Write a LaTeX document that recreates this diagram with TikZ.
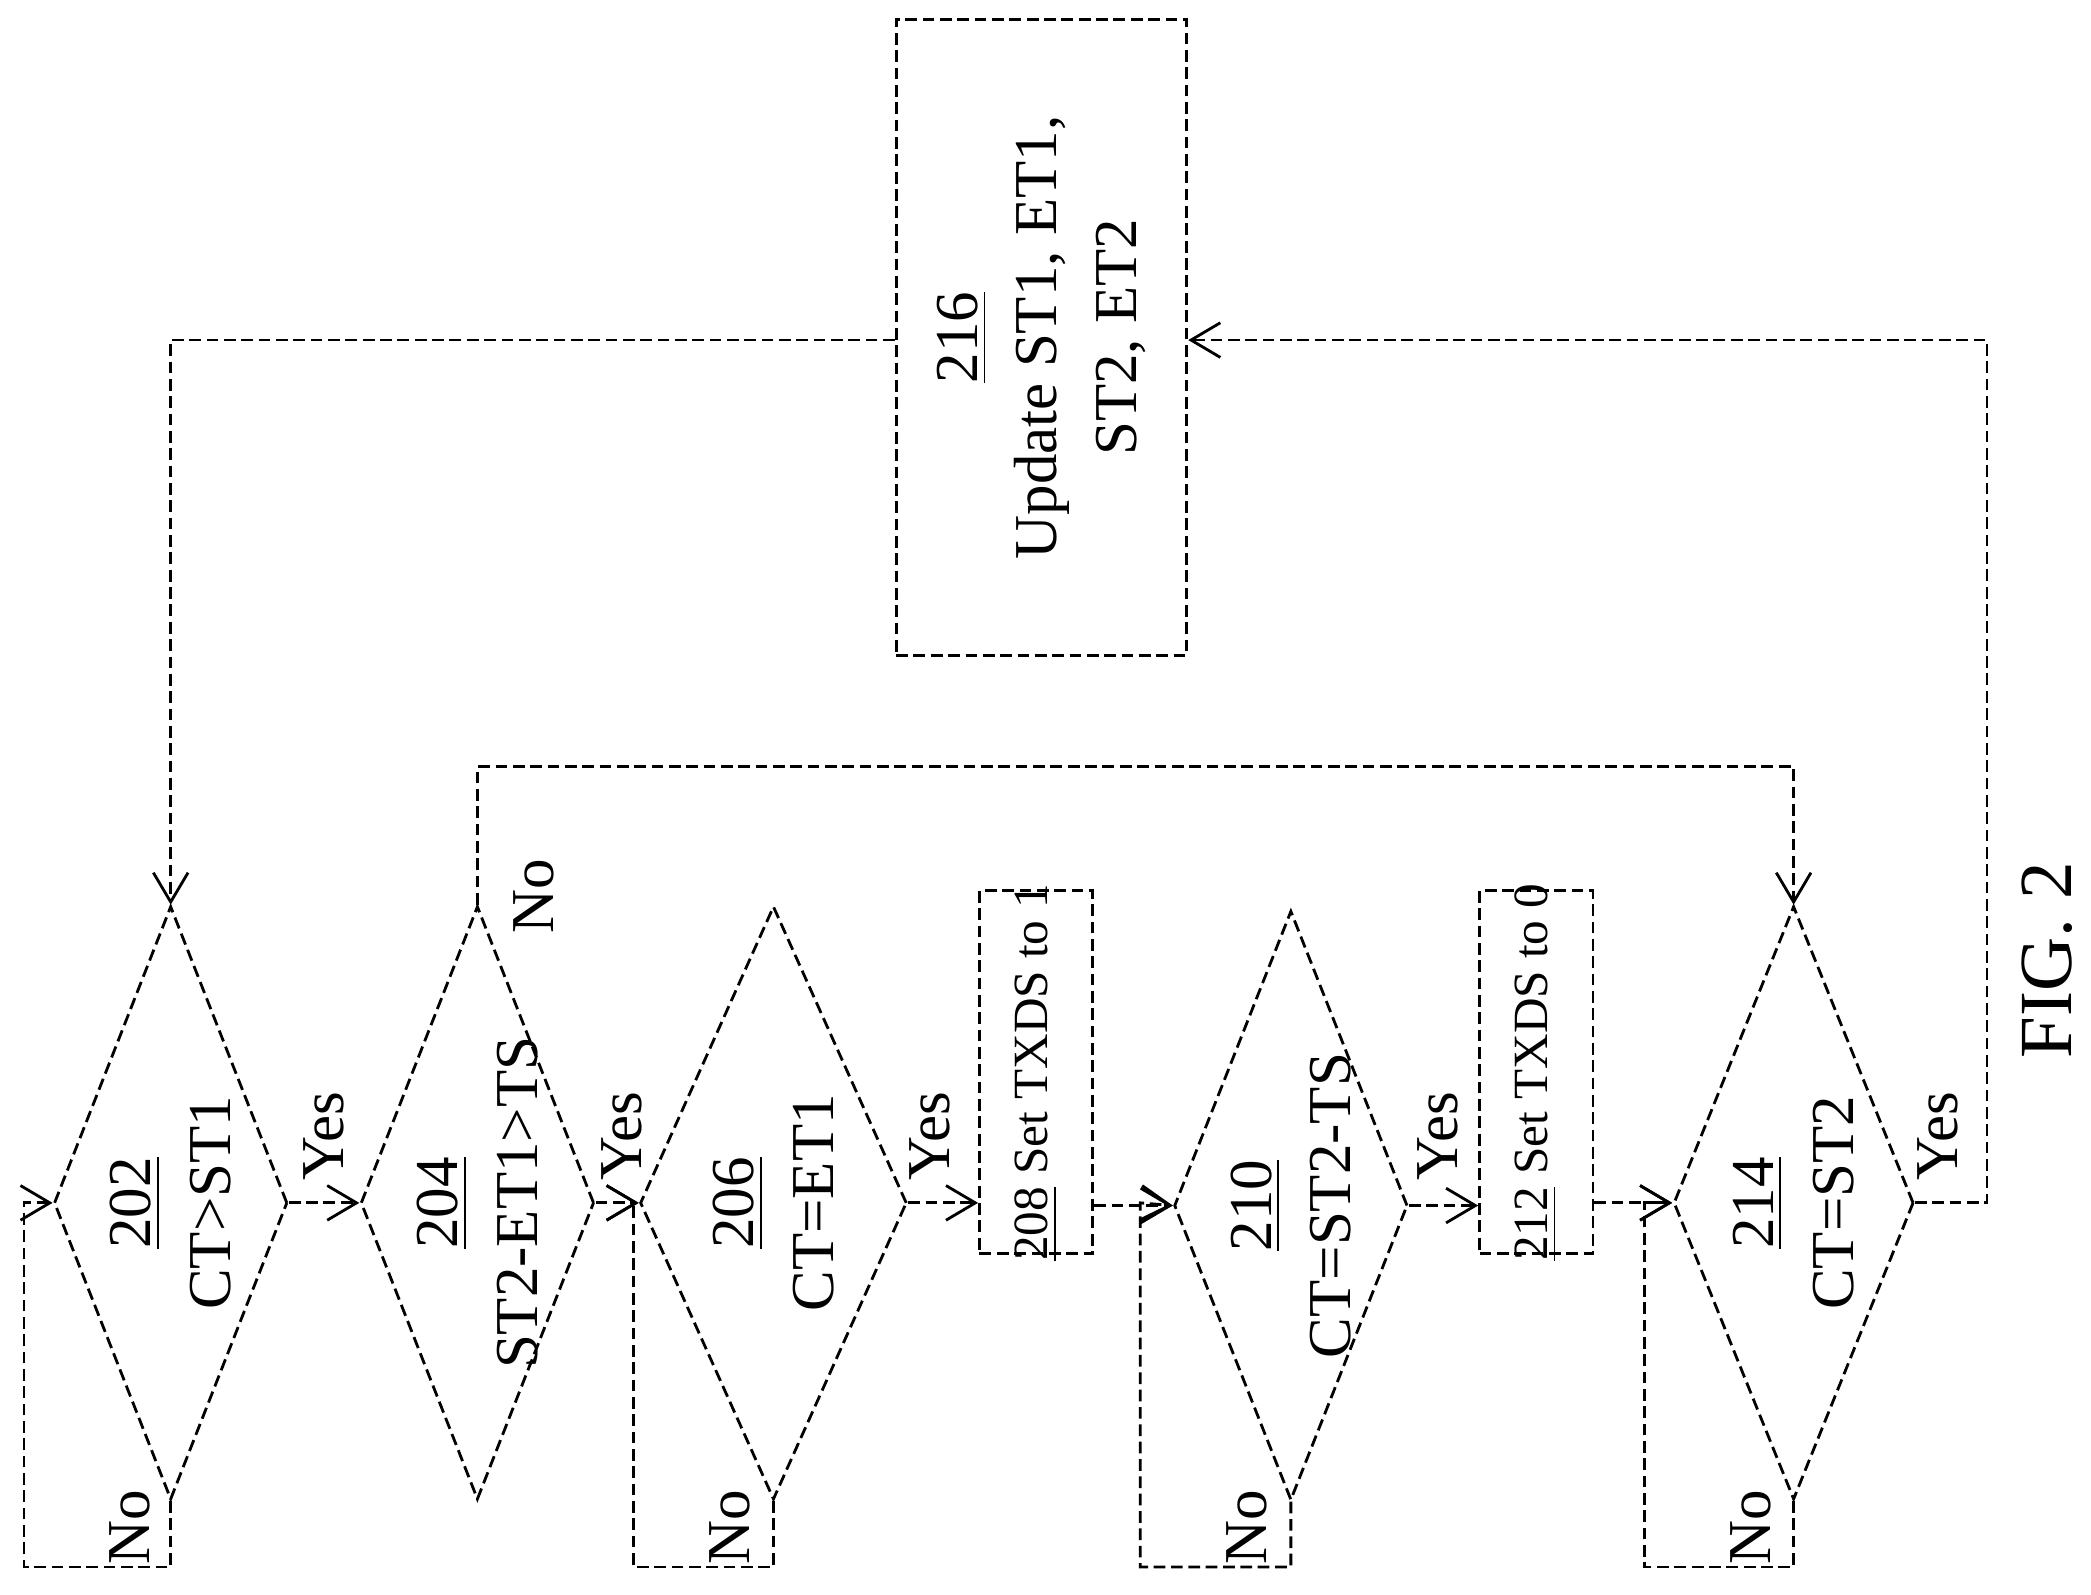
\documentclass[tikz,border=0pt]{standalone}
\usepackage{fontspec}
\setmainfont{Liberation Serif}
\usetikzlibrary{shapes.geometric,arrows.meta}
\begin{document}
\begin{tikzpicture}[x=0.1mm,y=-0.1mm,
  ln/.style={line width=0.6pt,dash pattern=on 2.5pt off 1.2pt},
  arr/.style={ln,-{Straight Barb[length=2.2mm,width=2.6mm]}},
  dia/.style={ln,draw,diamond,inner sep=0pt,minimum width=17.5mm,minimum height=44.5mm},
  box/.style={ln,draw,inner sep=0pt},
  txt/.style={rotate=90,align=center,font=\fontsize{13}{17}\selectfont},
  btxt/.style={rotate=90,align=center,font=\fontsize{10.5}{13}\selectfont},
  lab/.style={rotate=90,font=\fontsize{13}{16}\selectfont}]
\useasboundingbox (0,0) rectangle (1568,1196);
% diamonds
\node[dia] (d202) at (128,902) {};
\node[txt] at (d202) {\underline{202}\\CT>ST1};
\node[dia] (d204) at (358,902) {};
\node[txt] at (d204) {\underline{204}\\ST2-ET1>TS};
\node[dia,minimum width=20mm] (d206) at (580,902) {};
\node[txt] at (d206) {\underline{206}\\CT=ET1};
\node[box,minimum width=8.5mm,minimum height=27.2mm] (b208) at (777,804) {};
\node[btxt] at (b208) {\underline{208} Set TXDS to 1};
\node[dia,minimum height=44.2mm] (d210) at (968,904) {};
\node[txt] at (d210) {\underline{210}\\CT=ST2-TS};
\node[box,minimum width=8.5mm,minimum height=27.2mm] (b212) at (1152,804) {};
\node[btxt] at (b212) {\underline{212} Set TXDS to 0};
\node[dia,minimum width=18mm] (d214) at (1345,902) {};
\node[txt] at (d214) {\underline{214}\\CT=ST2};
\node[box,minimum width=21.8mm,minimum height=47.7mm] (b216) at (781,253) {};
\node[txt] at (b216) {\underline{216}\\Update ST1, ET1,\\ST2, ET2};
% yes arrows
\draw[arr] (d202.east) -- (d204.west);
\draw[arr] (d204.east) -- (d206.west);
\draw[arr] (d206.east) -- (b208.west |- d206.east);
\draw[arr] (b208.east |- d210.west) -- (d210.west);
\draw[arr] (d210.east) -- (b212.west |- d210.east);
\draw[arr] (b212.east |- d214.west) -- (d214.west);
\node[lab] (y1) at (243,852) {Yes};
\node[lab] (y2) at (466,852) {Yes};
\node[lab] (y3) at (697,852) {Yes};
\node[lab] (y4) at (1078,852) {Yes};
\node[lab] (y5) at (1453,852) {Yes};
% no loops
\coordinate (n1) at (18,1175);
\draw[arr] (d202.south) -- (d202.south |- n1) -- (n1) -- (18,902) -- (d202.west);
\coordinate (n3) at (475,1175);
\draw[arr] (d206.south) -- (d206.south |- n3) -- (n3) -- (475,902) -- (d206.west);
\coordinate (n5) at (855,1175);
\draw[arr] (d210.south) -- (d210.south |- n5) -- (n5) -- (855,902) -- (d210.west);
\coordinate (n7) at (1233,1175);
\draw[arr] (d214.south) -- (d214.south |- n7) -- (n7) -- (1233,902) -- (d214.west);
\node[lab] (no1) at (97,1145) {No};
\node[lab] (no3) at (547,1145) {No};
\node[lab] (no5) at (935,1145) {No};
\node[lab] (no7) at (1313,1145) {No};
% 204 no
\coordinate (c1) at (358,575);
\coordinate (c2) at (1345,575);
\draw[arr] (d204.north) -- (c1) -- (c2) -- (d214.north);
\node[lab] (no2) at (400,672) {No};
% 214 yes to 216
\coordinate (e1) at (1490,902);
\coordinate (e2) at (1490,255);
\draw[arr] (d214.east) -- (e1) -- (e2) -- (b216.east |- e2);
% 216 to 202
\coordinate (f1) at (128,255);
\draw[arr] (b216.west |- f1) -- (f1) -- (d202.north);
\node[lab,font=\fontsize{16}{19}\selectfont] (fig) at (1535,720) {FIG. 2};
\end{tikzpicture}
\end{document}
